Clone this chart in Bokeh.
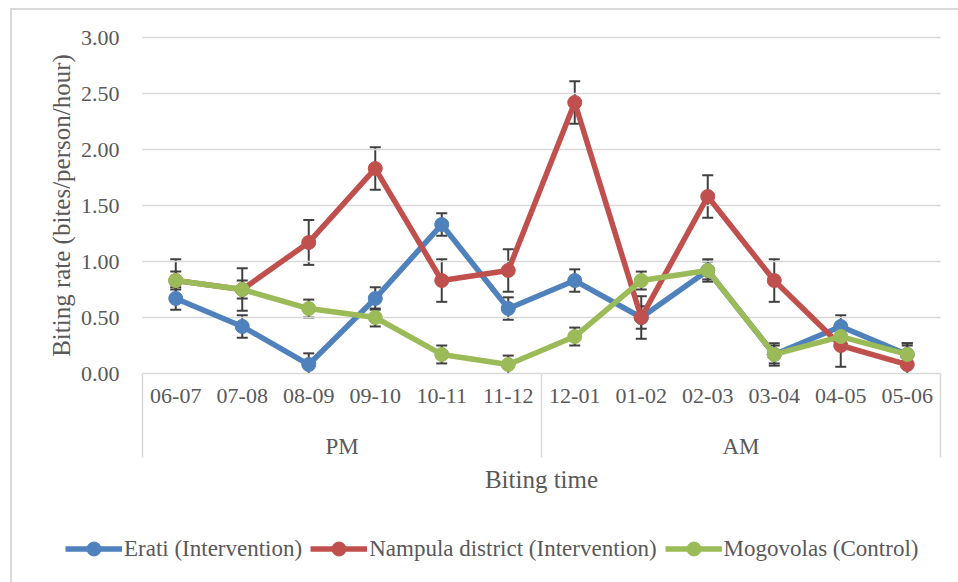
import math
from bokeh.plotting import figure
from bokeh.models import (Range1d, LinearAxis, FixedTicker, NumeralTickFormatter,
                          CustomJSTickFormatter, ColumnDataSource, Whisker, TeeHead, Legend,
                          LegendItem, Label)
from bokeh.embed import file_html
from bokeh.resources import INLINE

# ---- data ----
hours = ["06-07", "07-08", "08-09", "09-10", "10-11", "11-12",
         "12-01", "01-02", "02-03", "03-04", "04-05", "05-06"]
periods = ["PM", "PM", "PM", "PM", "PM", "PM",
           "AM", "AM", "AM", "AM", "AM", "AM"]

erati = [0.67, 0.42, 0.08, 0.67, 1.33, 0.58, 0.83, 0.50, 0.92, 0.17, 0.42, 0.17]
erati_err = [0.10, 0.10, 0.10, 0.10, 0.10, 0.10, 0.10, 0.10, 0.10, 0.10, 0.10, 0.10]

nampula = [0.83, 0.75, 1.17, 1.83, 0.83, 0.92, 2.42, 0.50, 1.58, 0.83, 0.25, 0.08]
nampula_err = [0.19, 0.19, 0.20, 0.19, 0.19, 0.19, 0.19, 0.19, 0.19, 0.19, 0.19, 0.19]

mogovolas = [0.83, 0.75, 0.58, 0.50, 0.17, 0.08, 0.33, 0.83, 0.92, 0.17, 0.33, 0.17]
mogovolas_err = [0.08, 0.08, 0.08, 0.08, 0.08, 0.08, 0.08, 0.08, 0.08, 0.08, 0.08, 0.08]

series_names = ["Erati (Intervention)", "Nampula district (Intervention)", "Mogovolas (Control)"]
series_colors = ["#4F81BD", "#C0504D", "#9BBB59"]

y_ticks = [0.0, 0.5, 1.0, 1.5, 2.0, 2.5, 3.0]
y_label = "Biting rate (bites/person/hour)"
x_label = "Biting time"

# ---- styling / layout (pixels) ----
FONT = "Liberation Serif"
TXT = "#595959"
GRID = "#D9D9D9"
ERR = "#404040"

W, H = 948, 574                # figure size (placed at page x=10, y=8)
PLOT_L, PLOT_R = 132, 18       # plot area insets inside the figure
PLOT_T, PLOT_B = 29, 209
BOX_DEPTH = 84                 # depth of the category table below the axis (px)

n = len(hours)
xpos = [i + 0.5 for i in range(n)]                       # category centres
bounds = [0] + [i for i in range(1, n) if periods[i] != periods[i - 1]] + [n]
groups = [periods[b] for b in bounds[:-1]]
group_pos = [(a + b) / 2 for a, b in zip(bounds[:-1], bounds[1:])]

ymin, ymax = y_ticks[0], y_ticks[-1]
px_x = (W - PLOT_L - PLOT_R) / n           # px per category
px_y = (H - PLOT_T - PLOT_B) / ymax        # px per y unit
x_range = Range1d(-PLOT_L / px_x, n + PLOT_R / px_x)
y_range = Range1d(-PLOT_B / px_y, ymax + PLOT_T / px_y)

label_code = "const i = pos.indexOf(tick); return i >= 0 ? labels[i] : '';"

p = figure(width=W, height=H, x_range=x_range, y_range=y_range,
           output_backend="svg", toolbar_location=None,
           min_border=0, min_border_left=0, min_border_right=0,
           min_border_top=0, min_border_bottom=0)
p.margin = (8, 0, 0, 10)
p.outline_line_color = None
p.styles = {"box-shadow": "inset 2px 2px 0 0 #D9D9D9"}
p.border_fill_alpha = 0
p.background_fill_alpha = 0
p.grid.visible = False

# horizontal gridlines (only across the plot area); the 0 line doubles as the category axis
p.segment(x0=[0] * len(y_ticks), x1=[n] * len(y_ticks), y0=y_ticks, y1=y_ticks,
          line_color=GRID, line_width=1.5)
# vertical lines of the category table at group boundaries
p.segment(x0=bounds, x1=bounds, y0=[0] * len(bounds), y1=[-BOX_DEPTH / px_y] * len(bounds),
          line_color=GRID, line_width=1.5)

# y axis (fixed at the left edge of the plot area)
ya = p.yaxis[0]
ya.fixed_location = 0
ya.ticker = FixedTicker(ticks=y_ticks, minor_ticks=[])
ya.formatter = NumeralTickFormatter(format="0.00")
ya.axis_line_color = None
ya.major_tick_line_color = None
ya.minor_tick_line_color = None
ya.major_tick_out = 0
ya.major_tick_in = 0
ya.minor_tick_out = 0
ya.minor_tick_in = 0
ya.major_label_standoff = 23
ya.major_label_text_font = FONT
ya.major_label_text_font_size = "22px"
ya.major_label_text_color = TXT

# x axis: hour labels at category centres
xa = p.xaxis[0]
xa.fixed_location = 0
xa.ticker = FixedTicker(ticks=xpos, minor_ticks=[])
xa.formatter = CustomJSTickFormatter(args=dict(pos=xpos, labels=hours), code=label_code)
xa.axis_line_color = None
xa.major_tick_out = 0
xa.major_tick_in = 0
xa.minor_tick_out = 0
xa.minor_tick_in = 0
xa.major_tick_line_color = None
xa.minor_tick_line_color = None
xa.major_label_standoff = 15
xa.major_label_text_font = FONT
xa.major_label_text_font_size = "22px"
xa.major_label_text_color = TXT

# group labels (PM / AM)
group_axis = LinearAxis(ticker=FixedTicker(ticks=group_pos, minor_ticks=[]), fixed_location=0,
                        formatter=CustomJSTickFormatter(args=dict(pos=group_pos, labels=groups),
                                                        code=label_code),
                        axis_line_color=None, major_tick_line_color=None,
                        minor_tick_line_color=None, major_tick_out=0, major_tick_in=0,
                        minor_tick_out=0, minor_tick_in=0, major_label_standoff=60,
                        major_label_text_font=FONT, major_label_text_font_size="23px",
                        major_label_text_color=TXT)
p.add_layout(group_axis, "below")

# axis titles
p.add_layout(Label(x=n / 2, y=-106 / px_y, text=x_label, text_font=FONT,
                   text_font_size="25px", text_color=TXT,
                   text_align="center", text_baseline="middle"))
p.add_layout(Label(x=-81 / px_x, y=ymax / 2, text=y_label, text_font=FONT,
                   text_font_size="25px", text_color=TXT, angle=math.pi / 2,
                   text_align="center", text_baseline="middle"))


def whisker(xs, lo, hi, upper_cap, lower_cap):
    src = ColumnDataSource(dict(x=xs, upper=hi, lower=lo))
    head = lambda on: TeeHead(size=11, line_color=ERR, line_width=2) if on else None
    return Whisker(base="x", upper="upper", lower="lower", source=src,
                   line_color=ERR, line_width=2, level="underlay",
                   upper_head=head(upper_cap), lower_head=head(lower_cap))


# error bars (lower part is cut at the axis minimum, without a cap, as in the reference)
series = [(erati, erati_err), (nampula, nampula_err), (mogovolas, mogovolas_err)]
for vals, errs in series:
    p.add_layout(whisker(xpos, vals, [v + e for v, e in zip(vals, errs)], True, False))
    keep = [i for i in range(n) if vals[i] - errs[i] > ymin]
    cut = [i for i in range(n) if vals[i] - errs[i] <= ymin]
    if keep:
        p.add_layout(whisker([xpos[i] for i in keep], [vals[i] - errs[i] for i in keep],
                             [vals[i] for i in keep], False, True))
    if cut:
        p.add_layout(whisker([xpos[i] for i in cut], [ymin] * len(cut),
                             [vals[i] for i in cut], False, False))

# lines + markers
items = []
for (vals, _), name, color in zip(series, series_names, series_colors):
    src = ColumnDataSource(dict(x=xpos, y=vals))
    lr = p.line("x", "y", source=src, line_color=color, line_width=5.5, line_join="round")
    sr = p.scatter("x", "y", source=src, marker="circle", size=14,
                   fill_color=color, line_color=color)
    items.append(LegendItem(label=name, renderers=[lr, sr]))

legend = Legend(items=items, orientation="horizontal", location=(55, 16),
                border_line_color=None, background_fill_alpha=0,
                label_text_font=FONT, label_text_font_size="23px", label_text_color=TXT,
                glyph_width=57, glyph_height=35, label_standoff=2, spacing=8,
                padding=0, margin=0)
p.add_layout(legend, "center")

open("out.html", "w").write(file_html(p, INLINE))
